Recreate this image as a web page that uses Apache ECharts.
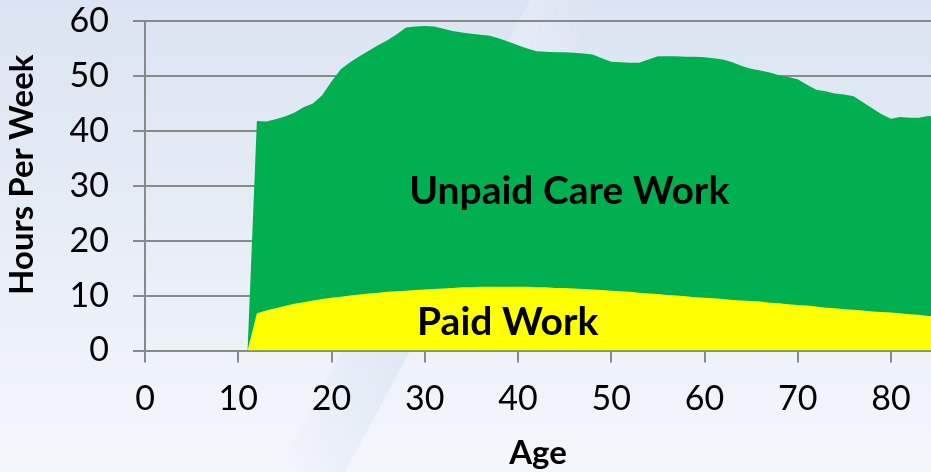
<!DOCTYPE html>
<html>
<head>
<meta charset="utf-8">
<script src="https://cdn.jsdelivr.net/npm/echarts@6/dist/echarts.min.js"></script>
<style>
  html, body { margin: 0; padding: 0; }
  body {
    width: 931px; height: 472px; overflow: hidden;
    background: linear-gradient(180deg, #dbe4f2 0%, #e6ecf6 45%, #f4f6fb 100%);
  }
  #chart { width: 931px; height: 472px; }
</style>
</head>
<body>
<div id="chart"></div>
<script>
(function (echarts) {
    'use strict';

    // ages 11..85, one point per year
    const ages = [
        11, 12, 13, 14, 15, 16, 17, 18, 19, 20,
        21, 22, 23, 24, 25, 26, 27, 28, 29, 30,
        31, 32, 33, 34, 35, 36, 37, 38, 39, 40,
        41, 42, 43, 44, 45, 46, 47, 48, 49, 50,
        51, 52, 53, 54, 55, 56, 57, 58, 59, 60,
        61, 62, 63, 64, 65, 66, 67, 68, 69, 70,
        71, 72, 73, 74, 75, 76, 77, 78, 79, 80,
        81, 82, 83, 84, 85
    ];

    // top of the green area: paid + unpaid care work (hours per week)
    const totalHours = [
        0, 41.8, 41.7, 42.1, 42.6, 43.3, 44.3, 45.0, 46.5, 49.0,
        51.2, 52.5, 53.6, 54.6, 55.6, 56.5, 57.6, 58.8, 59.0, 59.1,
        59.0, 58.6, 58.2, 57.9, 57.7, 57.5, 57.3, 56.8, 56.2, 55.6,
        55.0, 54.5, 54.4, 54.3, 54.3, 54.2, 54.1, 53.9, 53.2, 52.6,
        52.5, 52.4, 52.4, 53.0, 53.6, 53.6, 53.6, 53.5, 53.5, 53.4,
        53.2, 53.0, 52.5, 51.8, 51.3, 51.0, 50.6, 50.1, 49.8, 49.4,
        48.4, 47.5, 47.2, 46.8, 46.6, 46.3, 45.2, 44.1, 43.0, 42.2,
        42.5, 42.4, 42.4, 42.7, 42.5
    ];

    // paid work (hours per week)
    const paidHours = [
        0, 6.8, 7.3, 7.7, 8.1, 8.5, 8.8, 9.1, 9.4, 9.6,
        9.8, 10.0, 10.2, 10.4, 10.5, 10.7, 10.8, 10.9, 11.0, 11.1,
        11.2, 11.3, 11.4, 11.5, 11.5, 11.6, 11.6, 11.6, 11.6, 11.6,
        11.6, 11.5, 11.5, 11.4, 11.4, 11.3, 11.2, 11.1, 11.0, 10.9,
        10.8, 10.7, 10.5, 10.4, 10.3, 10.1, 10.0, 9.9, 9.7, 9.6,
        9.5, 9.4, 9.2, 9.1, 9.0, 8.9, 8.7, 8.6, 8.4, 8.3,
        8.2, 8.0, 7.8, 7.7, 7.5, 7.4, 7.3, 7.1, 7.0, 6.9,
        6.8, 6.6, 6.5, 6.3, 6.2
    ];

    const seriesNames = ['Unpaid Care Work', 'Paid Work'];
    const labelSpots = [[45.5, 29.0], [38.9, 5.2]];

    const FONT = 'Lato, "Open Sans", sans-serif';
    const GRID_COLOR = '#898989';

    const zip = (xs, ys) => xs.map((x, i) => [x, ys[i]]);

    const chart = echarts.init(document.getElementById('chart'), null, { renderer: 'canvas' });

    const areaLabel = (name, coord) => ({
        silent: true,
        symbol: 'circle',
        symbolSize: 0,
        label: {
            show: true,
            position: 'inside',
            formatter: name,
            color: '#000',
            fontFamily: FONT,
            fontWeight: 'bold',
            fontSize: 39
        },
        data: [{ coord: coord }]
    });

    const options = {
        backgroundColor: 'transparent',
        animation: false,
        textStyle: { fontFamily: FONT },
        graphic: [{
            // faint diagonal streak of the slide background
            type: 'polygon',
            z: -10,
            silent: true,
            shape: { points: [[278, 472], [345, 472], [598, 0], [530, 0]] },
            style: {
                fill: new echarts.graphic.LinearGradient(0, 0, 1, 0, [
                    { offset: 0, color: 'rgba(195,213,236,0)' },
                    { offset: 0.45, color: 'rgba(190,210,235,0.35)' },
                    { offset: 0.75, color: 'rgba(240,245,252,0.4)' },
                    { offset: 1, color: 'rgba(240,245,252,0)' }
                ])
            }
        }],
        grid: { left: 145, right: 0, top: 21, bottom: 121.5, containLabel: false, outerBoundsMode: 'none' },
        xAxis: {
            type: 'value',
            min: 0,
            max: 84.3,
            interval: 10,
            name: 'Age',
            nameLocation: 'middle',
            nameGap: 86,
            nameTextStyle: { color: '#000', fontFamily: FONT, fontWeight: 'bold', fontSize: 33 },
            axisLine: { show: true, onZero: false, lineStyle: { color: GRID_COLOR, width: 2 } },
            axisTick: { show: true, length: 12, lineStyle: { color: GRID_COLOR, width: 2 } },
            axisLabel: { color: '#000', fontFamily: FONT, fontSize: 34, margin: 32, showMaxLabel: false },
            splitLine: { show: false }
        },
        yAxis: {
            type: 'value',
            min: 0,
            max: 60,
            interval: 10,
            name: 'Hours Per Week',
            nameLocation: 'middle',
            nameGap: 106,
            nameRotate: 90,
            nameTextStyle: {
                color: '#000', fontFamily: FONT, fontWeight: 'bold', fontSize: 33,
                padding: [0, 0, 0, 22]
            },
            axisLine: { show: true, lineStyle: { color: GRID_COLOR, width: 2 } },
            axisTick: { show: true, length: 12, lineStyle: { color: GRID_COLOR, width: 2 } },
            axisLabel: { color: '#000', fontFamily: FONT, fontSize: 34, margin: 36 },
            splitLine: { show: true, lineStyle: { color: GRID_COLOR, width: 2 } }
        },
        series: [
            {
                name: seriesNames[0],
                type: 'line',
                data: zip(ages, totalHours),
                showSymbol: false,
                lineStyle: { width: 0 },
                areaStyle: { color: '#00b050', opacity: 1 },
                z: 2,
                markPoint: areaLabel(seriesNames[0], labelSpots[0])
            },
            {
                name: seriesNames[1],
                type: 'line',
                data: zip(ages, paidHours),
                showSymbol: false,
                lineStyle: { width: 0 },
                areaStyle: { color: '#ffff00', opacity: 1 },
                z: 3,
                markPoint: areaLabel(seriesNames[1], labelSpots[1])
            }
        ]
    };

    chart.setOption(options);

})(echarts);
</script>
</body>
</html>
